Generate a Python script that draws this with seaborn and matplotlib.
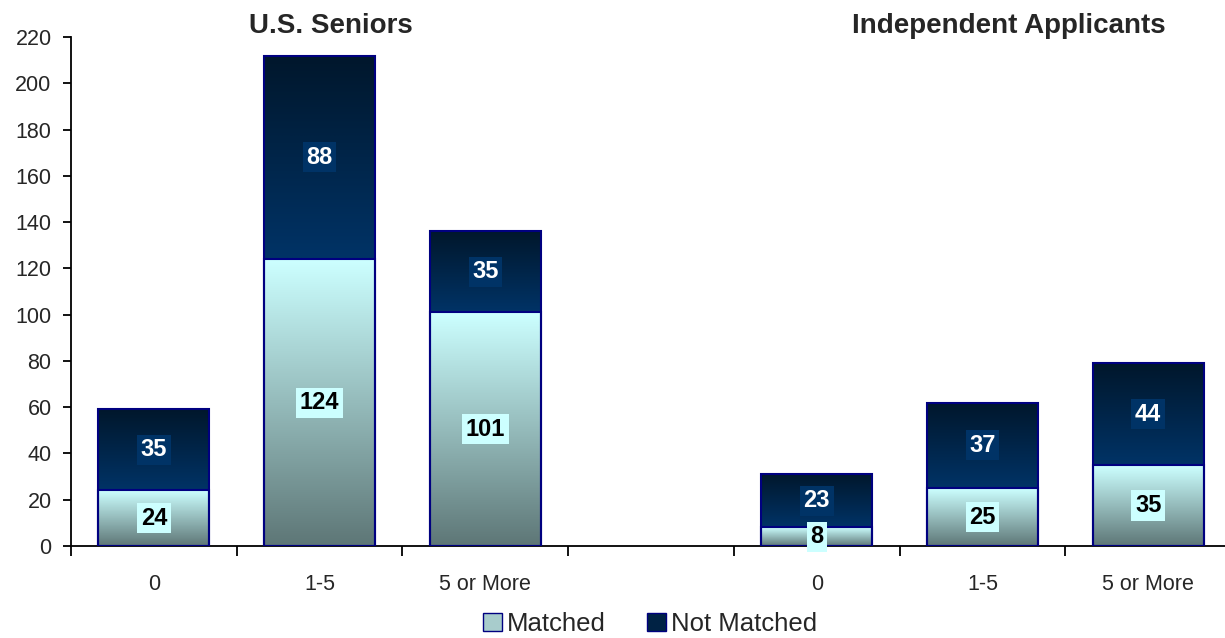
import numpy as np
import pandas as pd
import seaborn as sns
import matplotlib.pyplot as plt
from matplotlib.patches import Patch

# data
slots = ["US 0", "US 1-5", "US 5+", "gap", "IA 0", "IA 1-5", "IA 5+"]
tick_labels = ["0", "1-5", "5 or More", "", "0", "1-5", "5 or More"]
bar_slots = ["US 0", "US 1-5", "US 5+", "IA 0", "IA 1-5", "IA 5+"]
matched = [24, 124, 101, 8, 25, 35]
not_matched = [35, 88, 35, 23, 37, 44]
group_titles = ["U.S. Seniors", "Independent Applicants"]

df = pd.DataFrame({"slot": bar_slots, "Matched": matched, "Not Matched": not_matched})
df["total"] = df["Matched"] + df["Not Matched"]

sns.set_style("white")
plt.rcParams["font.family"] = ["Liberation Sans", "DejaVu Sans"]

fig = plt.figure(figsize=(12.25, 6.38), dpi=100)
ax = fig.add_axes([71 / 1225, 92 / 638, 1160 / 1225, 509 / 638])

edge = "#000080"
BW = 0.67
# totals first (not matched segment on top), then matched from zero
sns.barplot(data=df, x="slot", y="total", order=slots, width=BW, errorbar=None,
            facecolor="none", edgecolor=edge, linewidth=1.5, ax=ax, zorder=3)
sns.barplot(data=df, x="slot", y="Matched", order=slots, width=BW, errorbar=None,
            facecolor="none", edgecolor=edge, linewidth=1.5, ax=ax, zorder=3.1)

tot_bars = ax.containers[0]
m_bars = ax.containers[1]

# vertical gradients: row 0 = bottom (origin lower)
def grad(bottom_col, top_col, n=64):
    b = np.array(plt.matplotlib.colors.to_rgb(bottom_col))
    t = np.array(plt.matplotlib.colors.to_rgb(top_col))
    f = np.linspace(0, 1, n)[:, None]
    return (b + (t - b) * f)[:, None, :]

g_match = grad("#5E7777", "#CCFFFF")
g_not = grad("#003366", "#00172C")

for pt, pm, m, nm in zip(tot_bars.patches, m_bars.patches, matched, not_matched):
    x0 = pm.get_x()
    x1 = x0 + pm.get_width()
    ax.imshow(g_match, extent=[x0, x1, 0, m], origin="lower", aspect="auto",
              interpolation="bilinear", zorder=2)
    ax.imshow(g_not, extent=[x0, x1, m, m + nm], origin="lower", aspect="auto",
              interpolation="bilinear", zorder=2)
    xc = (x0 + x1) / 2
    ax.text(xc, m / 2, str(m), ha="center", va="center", fontsize=17,
            fontweight="bold", color="black", zorder=5,
            bbox=dict(boxstyle="square,pad=0.15", fc="#CCFFFF", ec="none"))
    ax.text(xc, m + nm / 2, str(nm), ha="center", va="center", fontsize=17,
            fontweight="bold", color="white", zorder=5,
            bbox=dict(boxstyle="square,pad=0.15", fc="#003366", ec="none"))

ax.set_xlim(-0.5, 6.5)
ax.set_ylim(0, 220)
ax.set_yticks(range(0, 221, 20))
ax.set_xticks(range(len(slots)))
ax.set_xticklabels(tick_labels)
ax.set_xticks(np.arange(-0.5, 7, 1), minor=True)
ax.set_xlabel("")
ax.set_ylabel("")

for s in ["top", "right"]:
    ax.spines[s].set_visible(False)
for s in ["left", "bottom"]:
    ax.spines[s].set_color("black")
    ax.spines[s].set_linewidth(1.3)

ax.tick_params(axis="y", which="major", direction="out", length=6, width=1.3,
               color="black", labelsize=15.5, pad=8, left=True)
ax.tick_params(axis="x", which="major", length=0, labelsize=15.5, pad=20)
ax.tick_params(axis="x", which="minor", direction="out", length=7, width=1.3,
               color="black", bottom=True)

fig.text(331 / 1225, 1 - 26 / 638, group_titles[0], ha="center", va="center",
         fontsize=20, fontweight="bold")
fig.text(1009 / 1225, 1 - 26 / 638, group_titles[1], ha="center", va="center",
         fontsize=20, fontweight="bold")

handles = [Patch(facecolor="#A8CCCC", edgecolor=edge, label="Matched"),
           Patch(facecolor="#002244", edgecolor=edge, label="Not Matched")]
fig.legend(handles=handles, loc="center", bbox_to_anchor=(650 / 1225, 1 - 624 / 638),
           ncol=2, frameon=False, fontsize=18.5, handlelength=0.75, handleheight=0.75,
           handletextpad=0.2, columnspacing=1.6)

fig.savefig("out.png", dpi=100)
